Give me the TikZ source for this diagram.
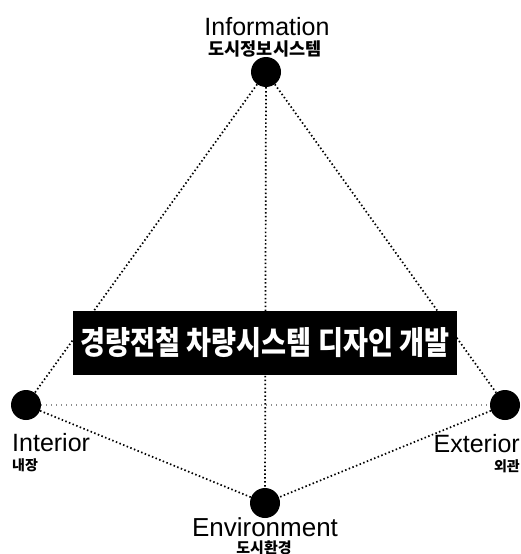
\documentclass[tikz,border=0pt]{standalone}
\usepackage{fontspec}
\setmainfont{Liberation Sans}
\newfontfamily\kr{Noto Sans CJK KR}
\newfontfamily\krbox[FakeStretch=0.85]{Noto Sans CJK KR}
\begin{document}
\begin{tikzpicture}[x=1pt,y=-1pt,
  dot/.style={circle,fill=black,minimum size=30pt,inner sep=0pt},
  dotline/.style={line width=1.7pt,dash pattern=on 1.5pt off 2.4pt,black},
  hline/.style={line width=1.2pt,dash pattern=on 1pt off 4pt,black!45},
  enlabel/.style={inner sep=0pt,font=\fontsize{25}{28}\selectfont},
  krlabel/.style={inner sep=0pt,font=\kr\bfseries\fontsize{15}{17}\selectfont},
  titlebox/.style={fill=black,text=white,minimum width=384pt,minimum height=64pt,inner sep=0pt,font=\krbox\bfseries\fontsize{32}{34}\selectfont}]
\useasboundingbox (0,0) rectangle (521,554);
\node[dot] (T) at (266,72) {};
\node[dot] (L) at (26,405) {};
\node[dot] (R) at (505,405) {};
\node[dot] (B) at (265,503) {};
\draw[hline] (L) -- (R);
\draw[dotline] (T) -- (L);
\draw[dotline] (T) -- (R);
\draw[dotline] (T) -- (B);
\draw[dotline] (L) -- (B);
\draw[dotline] (R) -- (B);
\node[titlebox] (box) at (265,343) {\raisebox{-2pt}{경량전철 차량시스템 디자인 개발}};
\node[enlabel,anchor=base] (tinfo) at (267,35) {Information};
\node[krlabel,font=\kr\bfseries\fontsize{17.5}{19}\selectfont] (tinfok) at (265,49) {도시정보시스템};
\node[enlabel,anchor=base west] (tint) at (12,451) {Interior};
\node[krlabel,anchor=west,font=\kr\bfseries\fontsize{14}{16}\selectfont] (tintk) at (12,465) {내장};
\node[enlabel,anchor=base east] (text) at (520,452) {Exterior};
\node[krlabel,anchor=east,font=\kr\bfseries\fontsize{14}{16}\selectfont] (textk) at (520,466) {외관};
\node[enlabel,anchor=base,font=\fontsize{26}{28}\selectfont] (tenv) at (265,536) {Environment};
\node[krlabel] (tenvk) at (264,548) {도시환경};
\end{tikzpicture}
\end{document}
